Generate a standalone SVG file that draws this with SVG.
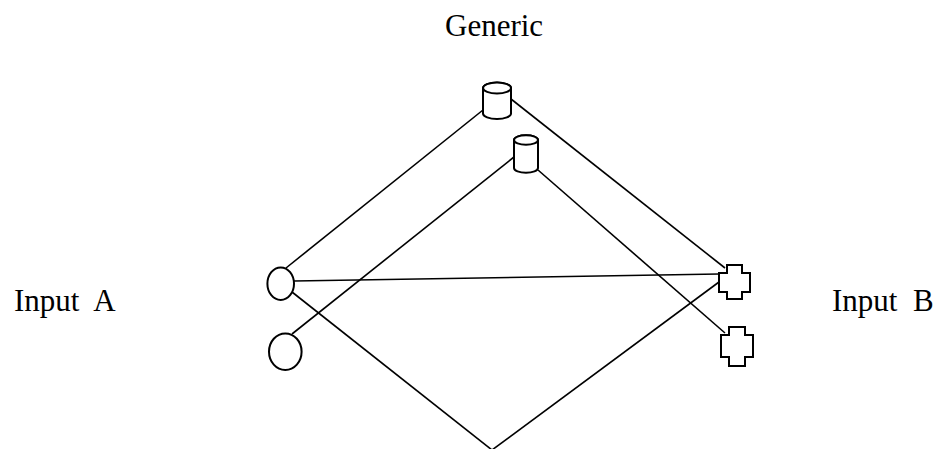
<svg xmlns="http://www.w3.org/2000/svg" width="937" height="449" viewBox="0 0 937 449">
<style>
.bg{fill:#ffffff}
.edge{stroke:#000;stroke-width:1.6;fill:none}
.node{stroke:#000;stroke-width:2;fill:#fff}
.lbl{font-family:"Liberation Serif","Times New Roman",serif;font-size:31px;fill:#000}
</style>
<rect class="bg" x="0" y="0" width="937" height="449"/>
<text class="lbl" x="445" y="36">Generic</text>
<text class="lbl" x="14" y="311" xml:space="preserve">Input  A</text>
<text class="lbl" x="832" y="311" xml:space="preserve">Input  B</text>
<g id="connectors">
<line class="edge" x1="483" y1="110" x2="286" y2="268"/>
<line class="edge" x1="511" y1="99" x2="725" y2="268"/>
<line class="edge" x1="514" y1="157" x2="292" y2="334"/>
<line class="edge" x1="538" y1="170" x2="725" y2="333"/>
<line class="edge" x1="294" y1="281" x2="719" y2="274"/>
<line class="edge" x1="292" y1="292" x2="492" y2="450"/>
<line class="edge" x1="719" y1="282" x2="492" y2="450"/>
</g>
<g id="cyl1">
<path class="node" d="M483,88 A14,5.5 0 0 1 511,88 L511,113.5 A14,5.5 0 0 1 483,113.5 Z"/>
<ellipse class="node" cx="497" cy="88" rx="14" ry="5.5"/>
</g>
<g id="cyl2">
<path class="node" d="M514,140 A12,4.7 0 0 1 538,140 L538,168 A12,4.7 0 0 1 514,168 Z"/>
<ellipse class="node" cx="526" cy="140" rx="12" ry="4.7"/>
</g>
<g id="a1">
<ellipse class="node" cx="280.7" cy="283.7" rx="13.3" ry="16.3"/>
</g>
<g id="a2">
<ellipse class="node" cx="285.3" cy="351.7" rx="16.3" ry="18.3"/>
</g>
<g id="b1">
<polygon class="node" points="727,265 742,265 742,273 750,273 750,292 742,292 742,299 727,299 727,292 719,292 719,273 727,273"/>
</g>
<g id="b2">
<polygon class="node" points="729,327 745,327 745,335 753,335 753,357 745,357 745,366 729,366 729,357 721,357 721,335 729,335"/>
</g>
</svg>
